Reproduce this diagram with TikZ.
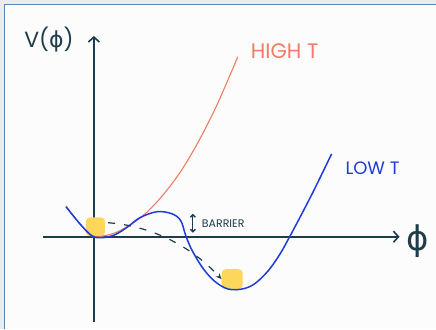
\documentclass[tikz,border=0pt]{standalone}
\usepackage{fontspec}
\setmainfont{Poppins}
\newfontfamily\greekfont{DejaVu Sans}
\usetikzlibrary{arrows.meta, positioning, calc}

\definecolor{inkdark}{HTML}{1F3C4A}
\definecolor{hotred}{HTML}{F07C66}
\definecolor{coldblue}{HTML}{1E3CD8}
\definecolor{spotyellow}{HTML}{FCD75B}
\definecolor{framegray}{HTML}{ECECEC}
\definecolor{frameblue}{HTML}{5A86B5}

\begin{document}
\begin{tikzpicture}[x=1pt, y=-1pt,
        axisline/.style={draw=inkdark, line width=2.2pt, -{Straight Barb[length=5pt, width=11pt, line width=1.6pt]}},
        hotcurve/.style={draw=hotred, line width=1.1pt},
        coldcurve/.style={draw=coldblue, line width=1.5pt},
        spot/.style={fill=spotyellow, rounded corners=4pt, inner sep=0pt},
        tunnel/.style={draw=inkdark, line width=1.2pt, dash pattern=on 7pt off 9pt, -{Stealth[length=6pt, width=5pt]}},
        tag/.style={inner sep=0pt, anchor=center}
    ]

    % --- frame ---
    \fill [framegray] (0,0) rectangle (436,329);
    \fill [white!98!gray] (5,5) rectangle (436,329);
    \draw [frameblue, line width=1pt] (5,329) -- (5,5) -- (436,5);
    \useasboundingbox (0,0) rectangle (436,329);

    % --- axes ---
    \draw [axisline] (94,322) -- (94,36);
    \draw [axisline] (43,237) -- (400,237);
    \node [tag, font=\fontsize{22}{24}\selectfont, text=inkdark] (vlabel) at (49,40) {V({\greekfont ϕ})};
    \node [tag, font=\greekfont\fontsize{34}{36}\selectfont, text=inkdark] (philabel) at (418,241) {ϕ};

    % --- false and true vacuum ---
    \node [spot, minimum width=19pt, minimum height=19pt] (false_vac) at (95.5,227) {};
    \node [spot, minimum width=21pt, minimum height=20pt] (true_vac) at (232.5,279.5) {};

    % --- potentials ---
    \draw [hotcurve] plot [smooth, tension=0.6] coordinates {
        (66,206) (78,222) (88,233) (94,237) (104,236.1) (120,231) (143,216)
        (165,193) (187,162) (213,114) (238,57)};
    \draw [coldcurve] plot [smooth, tension=0.6] coordinates {
        (66,207) (80,224) (92,236) (102,238) (115,235) (128,227) (140,218)
        (157,212) (172,214) (181,221) (186,236) (193,252) (205,271) (218,284)
        (232,290) (250,287) (265,275) (278,258) (290,237) (312,195) (332,154)};
    \node [tag, font=\fontsize{21}{23}\selectfont, text=hotred] (hot_lbl) at (285,51) {HIGH T};
    \node [tag, font=\fontsize{18}{20}\selectfont, text=coldblue] (cold_lbl) at (373,168) {LOW T};

    % --- tunnelling ---
    \draw [tunnel] ($(false_vac.east)+(3,-4)$) .. controls (150,226) and (190,245) .. (true_vac.west);

    % --- barrier height ---
    \coordinate (bar_top) at (193,214);
    \coordinate (bar_bot) at (193,233);
    \draw [inkdark, line width=1.4pt, {Straight Barb[length=2.5pt, width=5pt]}-{Straight Barb[length=2.5pt, width=5pt]}] (bar_top) -- (bar_bot);
    \node [tag, anchor=west, font=\fontsize{11}{12}\selectfont, text=inkdark] (bar_lbl) at (202,224) {BARRIER};

\end{tikzpicture}
\end{document}
